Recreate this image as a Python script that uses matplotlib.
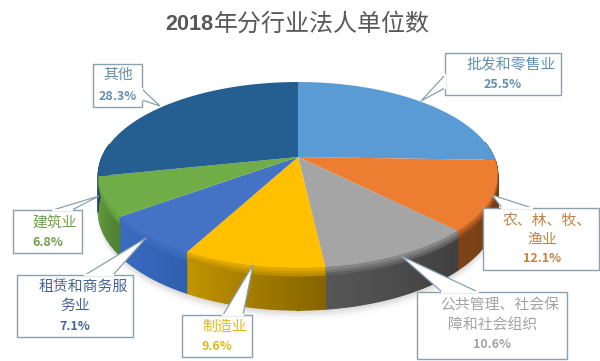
import numpy as np
import matplotlib
matplotlib.use('Agg')
import matplotlib.pyplot as plt
from matplotlib.patches import Polygon, Rectangle
from matplotlib.colors import to_rgb

plt.rcParams['font.family'] = ['Noto Sans CJK SC', 'DejaVu Sans']

# clockwise from 12 o'clock
labels = [['批发和零售业'], ['农、林、牧、', '渔业'], ['公共管理、社会保', '障和社会组织'], ['制造业'],
          ['租赁和商务服', '务业'], ['建筑业'], ['其他']]
values = [25.5, 12.1, 10.6, 9.6, 7.1, 6.8, 28.3]
top_colors = ['#5b9bd5', '#ed7d31', '#a5a5a5', '#ffc000', '#4472c4', '#70ad47', '#255e91']
side_right = ['#3a6d9c', '#6e3a12', '#3f3f3f', '#866400', '#2f5fb0', '#4f7f32', '#1b4468']
side_left = ['#3a6d9c', '#7d4317', '#565656', '#c29400', '#3a6cc0', '#6aa040', '#1b4468']
text_colors = ['#6390b0', '#c08345', '#a3a3a3', '#e2b520', '#456596', '#739f52', '#6390b0']

# label box x0, y0, x1, y1 / leader tip / leader base points / text line centres / percent centre
boxes = [(445, 53, 561, 95), (483, 208, 599, 270), (417, 292, 567, 359), (182, 315, 252, 357),
         (17, 275, 133, 337), (13, 210, 82, 253), (93, 64, 142, 107)]
tips = [(421, 101), (492, 195), (401, 256), (253, 265), (146, 238), (99, 196), (160, 106)]
bases = [((445, 75), (445, 88)), ((532, 208), (502, 208)), ((478, 292), (442, 292)), ((223, 315), (243, 315)),
         ((85, 275), (113, 275)), ((53, 210), (72, 210)), ((142, 89), (142, 100))]
line_pos = [[(511, 65)], [(547, 221), (542, 239)], [(500, 306), (493, 325)], [(225, 327)],
            [(83, 287), (75, 306)], [(55, 223)], [(118, 75)]]
pct_pos = [(503, 85), (542, 258), (492, 344), (217, 347), (75, 326), (48, 242), (118, 96)]

CX, CY = 298, 157
A, B, K = 196, 89.5, 0.1935  # tilt of the pie
DEPTH = 34


def project(deg):
    t = np.radians(deg)
    X, Y = np.sin(t), np.cos(t)
    d = 1 + K * Y
    return CX + A * X / d, CY - B * Y / d, DEPTH / d


fig = plt.figure(figsize=(6, 3.61), dpi=100)
ax = fig.add_axes([0, 0, 1, 1])
ax.set_xlim(0, 600)
ax.set_ylim(361, 0)
ax.axis('off')

edges = np.concatenate([[0], np.cumsum(values)]) * 360 / sum(values)

# soft shadow under the pie
t = np.linspace(90, 270, 200)
px, py, pd = project(t)
for off, al in zip([10, 7, 5, 3], [0.04, 0.06, 0.08, 0.1]):
    ax.add_patch(Polygon(np.c_[px, py + pd + off], fc='#808080', ec='none', alpha=al, zorder=1))

# side wall, cut in short strips so the colour can run along the slice
for i in range(len(values)):
    t = np.linspace(edges[i], edges[i + 1], 41)
    t = t[(t >= 80) & (t <= 280)]
    if len(t) < 2:
        continue
    c0, c1 = np.array(to_rgb(side_right[i])), np.array(to_rgb(side_left[i]))
    light = np.array(to_rgb(top_colors[i]))
    for j in range(len(t) - 1):
        px, py, pd = project(t[j:j + 2])
        col = c0 + (c1 - c0) * j / (len(t) - 2) if len(t) > 2 else c0
        pts = np.r_[np.c_[px, py], np.c_[px, py + pd][::-1]]
        ax.add_patch(Polygon(pts, fc=col, ec=col, lw=0.8, zorder=2))
    # lighter band just below the rim
    px, py, pd = project(t)
    mid = (c0 + c1) / 2
    for k, (h, f) in enumerate(zip([0.2, 0.13, 0.07], [0.25, 0.45, 0.65])):
        pts = np.r_[np.c_[px, py], np.c_[px, py + pd * h][::-1]]
        ax.add_patch(Polygon(pts, fc=mid + (light - mid) * f, ec='none', zorder=3 + k * 0.1))

# top face
for i in range(len(values)):
    t = np.linspace(edges[i], edges[i + 1], 80)
    px, py, _ = project(t)
    pts = np.r_[[[CX, CY]], np.c_[px, py]]
    ax.add_patch(Polygon(pts, fc=top_colors[i], ec='none', zorder=4))

# label boxes with callout leaders
for i, lines in enumerate(labels):
    x0, y0, x1, y1 = boxes[i]
    ax.add_patch(Rectangle((x0, y0), x1 - x0, y1 - y0, fc='white', ec='#8aa0ad', lw=1, zorder=5))
    ax.add_patch(Polygon([bases[i][0], tips[i], bases[i][1]], closed=False, fc='white', ec='#8aa0ad', lw=0.9, zorder=6))
    ax.plot([bases[i][0][0], bases[i][1][0]], [bases[i][0][1], bases[i][1][1]], color='white', lw=1.4, zorder=7)
    for line, (lx, ly) in zip(lines, line_pos[i]):
        ax.text(lx, ly, line, ha='center', va='center', fontsize=10.7, color=text_colors[i], zorder=8)
    ax.text(pct_pos[i][0], pct_pos[i][1], f'{values[i]}%', ha='center', va='center', fontsize=9,
            fontweight='bold', color=text_colors[i], zorder=8)

ax.text(165, 24, '2018', ha='left', va='center', fontsize=15.6, color='#595959', fontweight='bold',
        family='Liberation Sans', zorder=8)
ax.text(214, 24, '年分行业法人单位数', ha='left', va='center', fontsize=17.3, color='#595959', zorder=8)

fig.savefig('out.png', dpi=100)
